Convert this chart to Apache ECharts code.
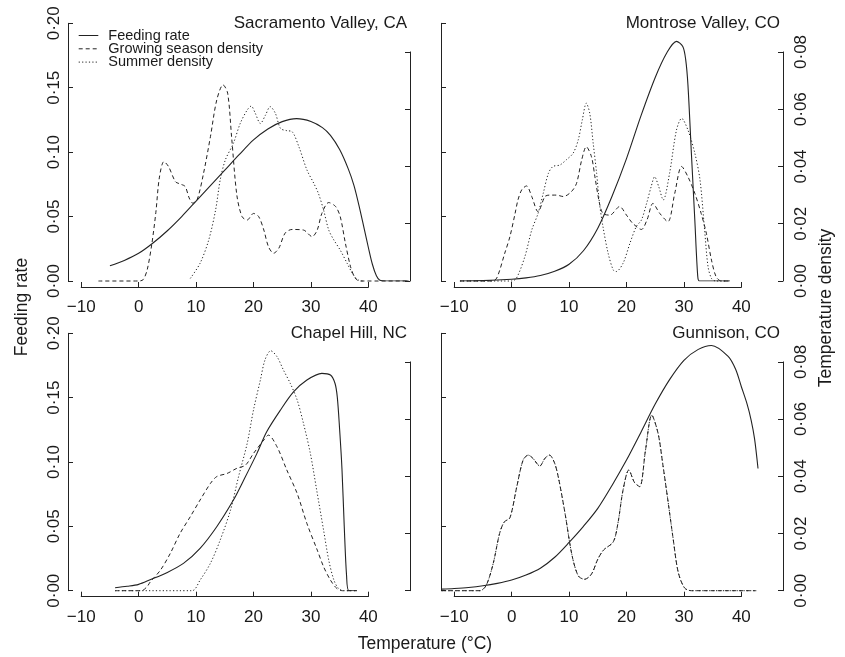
<!DOCTYPE html>
<html>
<head>
<meta charset="utf-8">
<script src="https://cdn.jsdelivr.net/npm/echarts@6/dist/echarts.min.js"></script>
<style>
    html, body { margin: 0; padding: 0; background: #fff; }
    #chart { width: 845px; height: 657px; }
</style>
</head>
<body>
<div id="chart"></div>
<script>
// temperature (°C) / value pairs
var sacFeeding = [[-5,0.0118],[-2.5,0.016],[0,0.0215],[2.5,0.0295],[5,0.039],[7.5,0.050],[10,0.062],[12.5,0.074],[15,0.086],[17.5,0.098],[20,0.1095],[22.5,0.118],[25,0.1237],[27.5,0.126],[30,0.1238],[32,0.119],[33.4,0.113],[35,0.102],[36.5,0.087],[37.5,0.074],[38.5,0.056],[39.3,0.040],[40,0.026],[40.7,0.013],[41.4,0.004],[42,0.0005],[43,0],[47,0]];
var sacGrowing = [[-7,0],[0,0],[0.8,0.0005],[1.5,0.004],[2.3,0.013],[3,0.024],[3.6,0.036],[4.4,0.0417],[5.2,0.040],[6.4,0.0347],[7.2,0.0339],[8.1,0.033],[8.8,0.029],[9.4,0.0272],[10.2,0.0285],[11.3,0.0376],[12.5,0.0504],[13.6,0.0632],[14.7,0.0685],[15.5,0.0656],[16.2,0.050],[17.1,0.030],[18,0.0225],[18.9,0.0213],[20,0.0236],[20.9,0.0225],[21.8,0.0178],[22.6,0.012],[23.5,0.0097],[24.4,0.0114],[25.5,0.0167],[26.7,0.018],[28.7,0.0178],[30.2,0.0155],[31.1,0.0178],[31.9,0.0236],[33.1,0.0274],[34.3,0.026],[35.1,0.0225],[36,0.0132],[36.9,0.005],[37.7,0.001],[38.5,0],[47,0]];
var sacSummer = [[9,0.0009],[10.7,0.0062],[12.2,0.0143],[13.4,0.0248],[14.2,0.0353],[15.1,0.0423],[16.5,0.0481],[17.7,0.0551],[18.9,0.0597],[19.6,0.0611],[20.3,0.0586],[21.2,0.055],[22.1,0.058],[22.9,0.0609],[23.8,0.0586],[24.7,0.0533],[25.8,0.0525],[26.7,0.0522],[27.9,0.0469],[29.3,0.0388],[30.5,0.0341],[31.3,0.0306],[32.2,0.0248],[33.1,0.0178],[34,0.0143],[35.1,0.0108],[36.3,0.0062],[37.4,0.0021],[38.3,0.0003],[39,0]];

var monFeeding = [[-9,0],[-5,0.0003],[0,0.0014],[2.5,0.0024],[5,0.0042],[7.5,0.0075],[10,0.013],[12.5,0.0235],[15,0.041],[17.5,0.066],[20,0.095],[22.5,0.128],[25,0.158],[27,0.177],[28.7,0.186],[29.8,0.182],[30.3,0.172],[30.7,0.152],[31.3,0.099],[31.9,0.047],[32.4,0.004],[32.7,0],[38,0]];
var monGrowing = [[-9,0],[-3.5,0],[-2.6,0.001],[-1.2,0.0097],[-0.3,0.0155],[0.6,0.0236],[1.1,0.0283],[1.8,0.032],[2.6,0.0332],[3.5,0.0295],[4.6,0.0242],[5.8,0.0295],[6.6,0.030],[7.8,0.030],[9,0.0295],[10.4,0.0312],[11.3,0.0341],[12.2,0.0423],[13,0.0469],[13.9,0.0434],[14.5,0.0364],[15.3,0.0271],[15.9,0.0236],[17.1,0.023],[18.8,0.026],[20,0.023],[21.1,0.0201],[22.6,0.018],[23.6,0.0215],[24.6,0.0271],[25.8,0.0236],[27.2,0.0207],[28.4,0.0306],[29.6,0.040],[30.7,0.0364],[31.9,0.0306],[33,0.0236],[33.9,0.0167],[34.8,0.0073],[35.6,0.0015],[36.5,0],[38,0]];
var monSummer = [[-9,0],[0,0],[0.85,0.001],[2.3,0.0085],[3.5,0.0178],[4.6,0.0236],[5.5,0.0306],[6.4,0.0376],[7.2,0.040],[8.4,0.0405],[9.5,0.0423],[10.7,0.0446],[11.6,0.0493],[12.3,0.0562],[13,0.0621],[13.6,0.0586],[14.2,0.0481],[14.8,0.0376],[15.3,0.0271],[15.9,0.019],[16.8,0.0097],[17.7,0.0038],[18.2,0.0033],[19.4,0.0062],[20.6,0.0132],[21.7,0.019],[22.6,0.0213],[23.5,0.0271],[24.3,0.033],[24.9,0.0364],[25.6,0.033],[26.4,0.0283],[27.5,0.0376],[28.7,0.0527],[29.6,0.0568],[30.7,0.0527],[31.9,0.0446],[32.8,0.0353],[33.6,0.0178],[34.2,0.005],[34.8,0.0009],[35.5,0],[38,0]];

var chaFeeding = [[-4.1,0.0023],[-2,0.0034],[0,0.0049],[2,0.0085],[4.9,0.014],[7.8,0.0212],[10.7,0.0329],[13.6,0.0497],[16.5,0.0704],[18.3,0.086],[20.6,0.1067],[22.3,0.1235],[24.7,0.1404],[27,0.1546],[29.3,0.1637],[31.9,0.1689],[33.4,0.1676],[34.2,0.161],[34.6,0.150],[35,0.125],[35.4,0.095],[35.8,0.050],[36.2,0.012],[36.6,0],[38,0]];
var chaGrowing = [[-4.1,0],[0.5,0],[1.5,0.0015],[2,0.003],[3.8,0.0072],[5.5,0.013],[7.2,0.020],[9,0.0259],[10.7,0.0317],[12.5,0.0375],[13.6,0.0399],[15.4,0.041],[17.1,0.0428],[18.6,0.0439],[20,0.048],[21.8,0.0527],[22.6,0.0544],[24.1,0.0503],[25.8,0.0422],[27.6,0.034],[29.3,0.0235],[31.1,0.0142],[32.2,0.0084],[33.4,0.0037],[34.5,0.0008],[35.5,0],[38,0]];
var chaSummer = [[-4.1,0],[9.3,0],[10.7,0.0037],[12.5,0.0096],[14.2,0.0177],[16,0.0282],[17.4,0.0399],[18.9,0.0515],[20,0.0632],[21.2,0.0737],[22,0.0807],[23,0.0839],[24.1,0.0818],[25.2,0.0772],[26.4,0.0725],[27.6,0.0667],[28.7,0.0585],[29.9,0.048],[31,0.0352],[32.2,0.0212],[33.1,0.0107],[34,0.0037],[34.8,0.0008],[35.7,0],[38,0]];

var gunFeeding = [[-12.2,0.0012],[-10,0.0017],[-7.5,0.0025],[-5,0.0038],[-2.5,0.0057],[0,0.0083],[2.5,0.0122],[5,0.0175],[7.5,0.026],[10,0.0375],[12.5,0.050],[15,0.064],[17.5,0.082],[20,0.1015],[22.5,0.123],[25,0.145],[27.5,0.164],[30,0.179],[32.5,0.1875],[34.8,0.1905],[37.7,0.182],[39,0.172],[40,0.1585],[41,0.145],[41.7,0.1326],[42.3,0.118],[42.9,0.095]];
var gunGrowing = [[-12.2,0],[-5.5,0],[-4.4,0.002],[-3.2,0.0096],[-2.1,0.02],[-1.3,0.024],[-0.3,0.0255],[0.9,0.0364],[2,0.0457],[2.9,0.0474],[3.7,0.0463],[4.9,0.0436],[5.8,0.0463],[6.6,0.0474],[7.5,0.0445],[8.2,0.039],[9.3,0.027],[10.5,0.0125],[11.6,0.0052],[12.7,0.004],[13.9,0.0058],[15,0.011],[16,0.0142],[17.7,0.0171],[18.5,0.0235],[19.4,0.0352],[20.4,0.0422],[21.4,0.0378],[22.3,0.0364],[23.3,0.049],[24.4,0.0614],[25.5,0.055],[26.3,0.0445],[27.2,0.0317],[28.1,0.0185],[29,0.0065],[30.1,0.001],[31.3,0],[42.6,0]];
var gunSummer = gunGrowing; // the two densities coincide in this panel

var panelNames = ['Sacramento Valley, CA', 'Montrose Valley, CO', 'Chapel Hill, NC', 'Gunnison, CO'];
var feedingSets = [sacFeeding, monFeeding, chaFeeding, gunFeeding];
var growingSets = [sacGrowing, monGrowing, chaGrowing, gunGrowing];
var summerSets = [sacSummer, monSummer, chaSummer, gunSummer];
var legendNames = ['Feeding rate', 'Growing season density', 'Summer density'];

var xTickMin = -10, xTickMax = 40, xTickStep = 10;
var feedMax = 0.20, feedStep = 0.05;
var densAxisMax = 0.08, densStep = 0.02, densScaleMax = 0.09;

(function(){
    var FONT = '"Liberation Sans", Arial, Helvetica, sans-serif';
    var INK = '#222';
    var colLeft = [68, 441], plotW = 342;
    var rowTop = [23.3, 333.3], plotH = [257.7, 257.4];
    var xMin = -12.3, xMax = 47.25;
    var dashed = [4, 3], dotted = [1.2, 2.2];

    function dot(v) { return v.toFixed(2).replace('.', '\u00b7'); }
    function minus(v) { return v < 0 ? '\u2212' + Math.abs(v) : String(v); }

    var grid = [], xAxis = [], yAxis = [], series = [], graphic = [];
    var tickStyle = {inside: true, length: 5, lineStyle: {color: INK, width: 1}};
    var lineAx = {show: true, onZero: false, lineStyle: {color: INK, width: 1}};

    for (var i = 0; i < 4; i++) {
        var col = i % 2, row = Math.floor(i / 2);
        var L = colLeft[col], T = rowTop[row], H = plotH[row], B = T + H;
        var scale = plotW / (xMax - xMin);
        var rh = H * densAxisMax / densScaleMax;
        var g = i * 3;

        grid.push({left: L, top: T, width: plotW, height: H});
        grid.push({left: L + (xTickMin - xMin) * scale, top: B + 6 - 10, width: (xTickMax - xTickMin) * scale, height: 10});
        grid.push({left: L, top: B - rh, width: plotW, height: rh});

        xAxis.push({gridIndex: g, type: 'value', min: xMin, max: xMax, show: false});
        xAxis.push({gridIndex: g + 1, type: 'value', min: xTickMin, max: xTickMax, interval: xTickStep,
            axisLine: lineAx, axisTick: tickStyle, splitLine: {show: false},
            axisLabel: {color: '#1a1a1a', fontSize: 17, fontFamily: FONT, margin: 12, formatter: minus}});
        xAxis.push({gridIndex: g + 2, type: 'value', min: xMin, max: xMax, show: false});

        yAxis.push({gridIndex: g, type: 'value', position: 'left', min: 0, max: feedMax, interval: feedStep,
            axisLine: lineAx, axisTick: tickStyle, splitLine: {show: false},
            axisLabel: {show: col === 0, rotate: 90, color: '#1a1a1a', fontSize: 17, fontFamily: FONT, margin: 5, formatter: dot}});
        yAxis.push({gridIndex: g + 1, type: 'value', min: 0, max: 1, show: false});
        yAxis.push({gridIndex: g + 2, type: 'value', position: 'right', min: 0, max: densAxisMax, interval: densStep,
            axisLine: lineAx, axisTick: tickStyle, splitLine: {show: false},
            axisLabel: {show: col === 1, rotate: 90, color: '#1a1a1a', fontSize: 17, fontFamily: FONT, margin: 10, formatter: dot}});

        series.push({type: 'line', name: legendNames[0], xAxisIndex: g, yAxisIndex: g, data: feedingSets[i],
            showSymbol: false, smooth: 0.3, lineStyle: {color: INK, width: 1.1}});
        series.push({type: 'line', name: legendNames[1], xAxisIndex: g + 2, yAxisIndex: g + 2, data: growingSets[i],
            showSymbol: false, smooth: 0.3, clip: false, lineStyle: {color: INK, width: 1, type: dashed}});
        series.push({type: 'line', name: legendNames[2], xAxisIndex: g + 2, yAxisIndex: g + 2, data: summerSets[i],
            showSymbol: false, smooth: 0.3, clip: false, lineStyle: {color: INK, width: 1, type: dotted}});

        graphic.push({type: 'text', x: L + plotW - 3, y: T + 0.5,
            style: {text: panelNames[i], font: '17px ' + FONT, fill: '#1a1a1a',
                align: 'right', verticalAlign: 'middle', textAlign: 'right', textVerticalAlign: 'middle'}});
    }

    // legend in the first panel
    var dashes = [null, dashed, dotted];
    for (var k = 0; k < 3; k++) {
        var ly = 35.5 + k * 13.3;
        graphic.push({type: 'line', shape: {x1: 78.7, y1: ly, x2: 98.3, y2: ly},
            style: {stroke: INK, lineWidth: 1, lineDash: dashes[k]}});
        graphic.push({type: 'text', x: 108.3, y: ly,
            style: {text: legendNames[k], font: '14.5px ' + FONT, fill: '#1a1a1a',
                align: 'left', verticalAlign: 'middle', textAlign: 'left', textVerticalAlign: 'middle'}});
    }

    // shared axis titles
    graphic.push({type: 'text', x: 22, y: 307, rotation: Math.PI / 2,
        style: {text: 'Feeding rate', font: '17.5px ' + FONT, fill: '#1a1a1a',
            align: 'center', verticalAlign: 'middle', textAlign: 'center', textVerticalAlign: 'middle'}});
    graphic.push({type: 'text', x: 826, y: 308, rotation: Math.PI / 2,
        style: {text: 'Temperature density', font: '17.5px ' + FONT, fill: '#1a1a1a',
            align: 'center', verticalAlign: 'middle', textAlign: 'center', textVerticalAlign: 'middle'}});
    graphic.push({type: 'text', x: 425, y: 644,
        style: {text: 'Temperature (\u00b0C)', font: '17.5px ' + FONT, fill: '#1a1a1a',
            align: 'center', verticalAlign: 'middle', textAlign: 'center', textVerticalAlign: 'middle'}});

    var chart = echarts.init(document.getElementById('chart'));
    chart.setOption({
        animation: false,
        backgroundColor: '#fff',
        grid: grid,
        xAxis: xAxis,
        yAxis: yAxis,
        series: series,
        graphic: graphic
    });
}());
</script>
</body>
</html>
